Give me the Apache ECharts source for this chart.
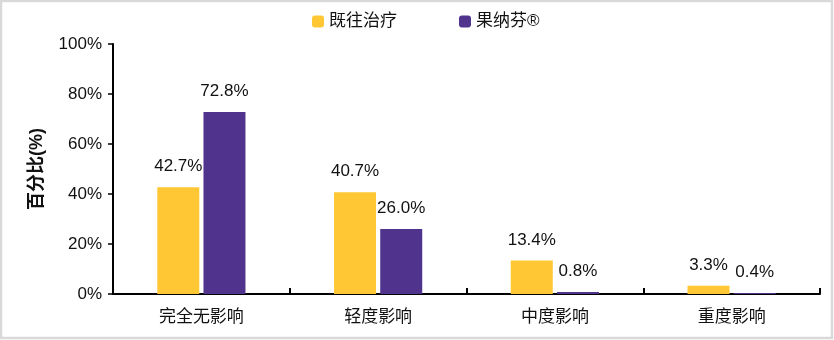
<!DOCTYPE html>
<html>
<head>
<meta charset="utf-8">
<style>
  html, body { margin: 0; padding: 0; background: #ffffff; }
  #chart { width: 834px; height: 340px; }
</style>
<script src="https://cdn.jsdelivr.net/npm/echarts@6/dist/echarts.min.js"></script>
</head>
<body>
<div id="chart"></div>
<script>
// Impact categories on the x axis
const categories = ['完全无影响', '轻度影响', '中度影响', '重度影响'];
// Share of patients (%) per group
const priorTreatment = [42.7, 40.7, 13.4, 3.3];
const gonalF = [72.8, 26.0, 0.8, 0.4];
// Y axis settings
const yTicks = { min: 0, max: 100, interval: 20 };
const seriesNames = ['既往治疗', '果纳芬®'];

const FONT = '"Liberation Sans", Arial, "Noto Sans CJK SC", sans-serif';

const valueLabel = {
  show: true,
  position: 'top',
  distance: 12,
  color: '#111',
  fontSize: 17,
  fontFamily: FONT,
  formatter: p => p.value.toFixed(1) + '%'
};

const chart = echarts.init(document.getElementById('chart'), null, { renderer: 'canvas' });

chart.setOption({
  animation: false,
  backgroundColor: '#ffffff',
  textStyle: { fontFamily: FONT },
  graphic: [{
    type: 'rect',
    silent: true,
    z: 100,
    shape: { x: 1, y: 1, width: 831, height: 337 },
    style: { fill: 'none', stroke: '#d9d9d9', lineWidth: 2.5 }
  }],
  legend: {
    left: 307,
    top: 8,
    itemWidth: 12,
    itemHeight: 12,
    itemGap: 62,
    textStyle: { fontSize: 17, color: '#111', fontFamily: FONT },
    data: seriesNames
  },
  grid: { left: 113, right: 14, top: 44, bottom: 46 },
  xAxis: {
    type: 'category',
    data: categories,
    axisLine: { lineStyle: { color: '#000', width: 2 } },
    axisTick: { show: true, inside: true, length: 6, lineStyle: { color: '#000', width: 2 } },
    axisLabel: { color: '#111', fontSize: 17, margin: 15, fontFamily: FONT }
  },
  yAxis: {
    type: 'value',
    min: yTicks.min,
    max: yTicks.max,
    interval: yTicks.interval,
    name: '百分比(%)',
    nameLocation: 'middle',
    nameRotate: 90,
    nameGap: 67,
    nameTextStyle: { fontSize: 18, fontWeight: 'bold', color: '#111', fontFamily: FONT },
    axisLine: { show: true, lineStyle: { color: '#000', width: 2 } },
    axisTick: { show: true, length: 5, lineStyle: { color: '#000', width: 1.5 } },
    axisLabel: { color: '#111', fontSize: 17, margin: 11, formatter: '{value}%', fontFamily: FONT },
    splitLine: { show: false }
  },
  series: [
    {
      name: seriesNames[0],
      type: 'bar',
      data: priorTreatment,
      barWidth: 42,
      barGap: '10%',
      itemStyle: { color: '#FFC733' },
      label: valueLabel
    },
    {
      name: seriesNames[1],
      type: 'bar',
      data: gonalF,
      barWidth: 42,
      itemStyle: { color: '#50338D' },
      label: valueLabel
    }
  ]
});
</script>
</body>
</html>
